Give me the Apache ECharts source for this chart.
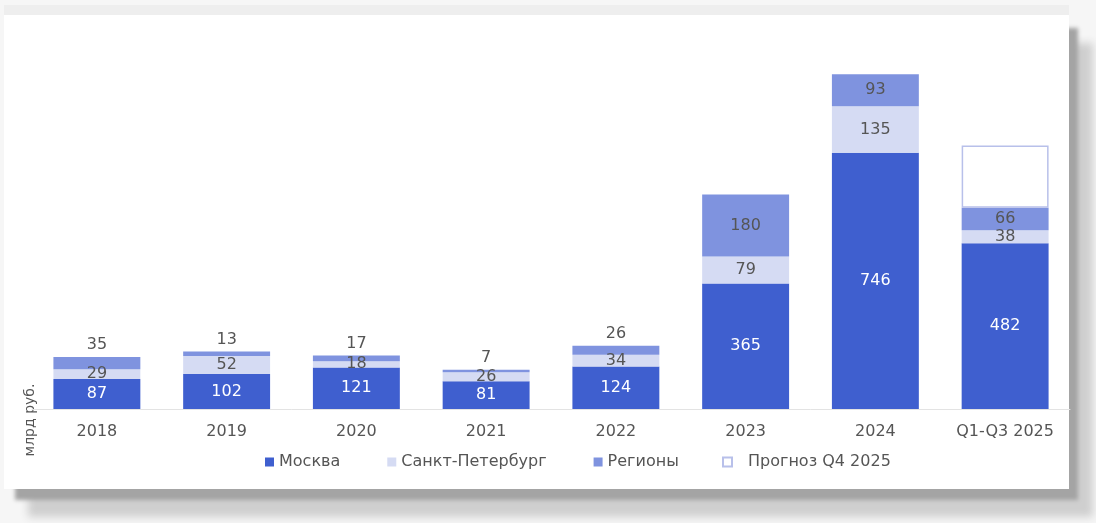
<!DOCTYPE html>
<html><head><meta charset="utf-8">
<script src="https://cdn.jsdelivr.net/npm/echarts@6/dist/echarts.min.js"></script>
<style>
html,body{margin:0;padding:0;background:#f6f6f6;overflow:hidden;}
#card{position:absolute;left:4px;top:15px;width:1065px;height:474px;background:#fff;
box-shadow:10px 12px 4px -1px #a4a4a4, 24px 28px 8px 0px #cfcfcf;}
#top{position:absolute;left:4px;top:5px;width:1065px;height:10px;background:#eeeeee;}
#chart{position:absolute;left:0;top:0;width:1096px;height:523px;}
</style></head>
<body><div id="top"></div><div id="card"></div><div id="chart"></div>
<script>
const categories = ['2018','2019','2020','2021','2022','2023','2024','Q1-Q3 2025'];
const moscow   = [87, 102, 121, 81, 124, 365, 746, 482];
const spb      = [29, 52, 18, 26, 34, 79, 135, 38];
const regions  = [35, 13, 17, 7, 26, 180, 93, 66];
const forecast = [null, null, null, null, null, null, null, 181];
const seriesNames = ['Москва', 'Санкт-Петербург', 'Регионы', 'Прогноз Q4 2025'];
const yAxisName = 'млрд руб.';

const FONT = 'DejaVu Sans';
const legendText = {color: '#555', fontFamily: FONT, fontSize: 16};
const chart = echarts.init(document.getElementById('chart'));
chart.setOption({
  animation: false,
  backgroundColor: 'transparent',
  grid: {left: 32, right: 26, top: 31, bottom: 114},
  xAxis: {
    type: 'category', data: categories,
    axisLine: {lineStyle: {color: '#e3e3e3', width: 1}},
    axisTick: {show: false},
    axisLabel: {color: '#555', fontFamily: FONT, fontSize: 16, margin: 15}
  },
  yAxis: {type: 'value', min: 0, max: 1100, show: false, splitLine: {show: false}},
  legend: [
    {left: 265, top: 454, padding: 0, itemWidth: 9, itemHeight: 9, itemGap: 47, textStyle: legendText,
     data: seriesNames.slice(0, 3).map(n => ({name: n, icon: 'rect'}))},
    {left: 722, top: 454, padding: 0, itemWidth: 9, itemHeight: 9,
     textStyle: Object.assign({padding: [0, 0, 0, 11]}, legendText),
     data: [{name: seriesNames[3], icon: 'rect'}]}
  ],
  graphic: [{
    type: 'text', x: 30, y: 420, rotation: Math.PI / 2,
    style: {text: yAxisName, fill: '#555', font: '14px ' + FONT, align: 'center', verticalAlign: 'middle'}
  }],
  series: [
    {name: seriesNames[0], type: 'bar', stack: 'a', barWidth: '67%', data: moscow,
     itemStyle: {color: '#3f5fcf'},
     label: {show: true, position: 'inside', color: '#fff', fontFamily: FONT, fontSize: 16}},
    {name: seriesNames[1], type: 'bar', stack: 'a', data: spb,
     itemStyle: {color: '#d5dbf3'},
     label: {show: true, position: 'inside', color: '#555', fontFamily: FONT, fontSize: 16}},
    {name: seriesNames[2], type: 'bar', stack: 'a',
     data: regions.map(v => ({value: v, label: {position: v < 50 ? 'top' : 'inside', distance: 4}})),
     itemStyle: {color: '#7f93df'},
     label: {show: true, color: '#555', fontFamily: FONT, fontSize: 16}},
    {name: seriesNames[3], type: 'bar', stack: 'a', data: forecast,
     itemStyle: {color: '#fff', borderColor: '#b8c0ea', borderWidth: 1.5},
     label: {show: false}}
  ]
});
</script></body></html>
